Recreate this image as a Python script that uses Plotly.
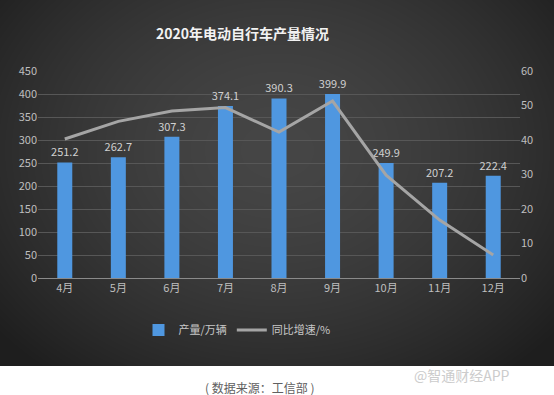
import base64, zlib, struct
import numpy as np
import plotly.graph_objects as go

months = ["4月", "5月", "6月", "7月", "8月", "9月", "10月", "11月", "12月"]
output = [251.2, 262.7, 307.3, 374.1, 390.3, 399.9, 249.9, 207.2, 222.4]
growth = [40.3, 45.4, 48.4, 49.4, 42.3, 51.3, 29.8, 16.8, 6.7]
left_ticks = [0, 50, 100, 150, 200, 250, 300, 350, 400, 450]
right_ticks = [0, 10, 20, 30, 40, 50, 60]

W, H = 554, 395
ML, MR, MT, MB = 38, 34, 71, 117
PW, PH = W - ML - MR, H - MT - MB
DARK_H = 366


def px2x(px):
    return (px - ML) / PW


def px2y(py):
    return (H - MB - py) / PH


def make_png(arr):
    h, w, _ = arr.shape
    raw = b"".join(b"\x00" + arr[i].tobytes() for i in range(h))
    def chunk(t, d):
        c = struct.pack(">I", len(d)) + t + d
        return c + struct.pack(">I", zlib.crc32(t + d) & 0xffffffff)
    png = b"\x89PNG\r\n\x1a\n" + chunk(b"IHDR", struct.pack(">IIBBBBB", w, h, 8, 2, 0, 0, 0))
    png += chunk(b"IDAT", zlib.compress(raw, 9)) + chunk(b"IEND", b"")
    return "data:image/png;base64," + base64.b64encode(png).decode()


yy, xx = np.mgrid[0:DARK_H, 0:W]
r = np.sqrt(((xx - 277) / 330.0) ** 2 + ((yy - 150) / 260.0) ** 2)
v = np.clip(70 - 34 * r ** 1.6, 30, 80).astype(np.uint8)
img = np.stack([v, v, v], axis=-1)
bg = make_png(img)

fig = go.Figure()
fig.add_trace(go.Bar(
    x=months, y=output, name="产量/万辆",
    marker=dict(color="#4f97e0", line=dict(width=0)),
    text=[f"{v:.1f}" for v in output], textposition="outside",
    textfont=dict(color="#d0d0d0", size=11), cliponaxis=False,
    constraintext="none",
    width=0.28,
))
fig.add_trace(go.Scatter(
    x=months, y=growth, name="同比增速/%", yaxis="y2", mode="lines",
    line=dict(color="#a5a5a5", width=3),
))

fig.update_layout(
    width=W, height=H,
    margin=dict(l=ML, r=MR, t=MT, b=MB),
    paper_bgcolor="white", plot_bgcolor="rgba(0,0,0,0)",
    font=dict(family="Noto Sans CJK SC, sans-serif", color="#bfbfbf", size=11),
    showlegend=True,
    legend=dict(orientation="h", x=px2x(237), y=px2y(330), xanchor="center", yanchor="middle",
                font=dict(color="#c8c8c8", size=11), bgcolor="rgba(0,0,0,0)", itemwidth=30,
                tracegroupgap=0),
    xaxis=dict(showgrid=False, showline=True, linecolor="#8a8a8a", linewidth=1,
               tickfont=dict(color="#bfbfbf", size=11), ticks=""),
    yaxis=dict(range=[0, 450], tickvals=left_ticks, showgrid=True, gridcolor="#575757",
               gridwidth=1, zeroline=False, tickfont=dict(color="#bfbfbf", size=11)),
    yaxis2=dict(range=[0, 60], tickvals=right_ticks, overlaying="y", side="right",
                showgrid=False, zeroline=False, tickfont=dict(color="#bfbfbf", size=11)),
    images=[dict(source=bg, xref="paper", yref="paper", x=px2x(0), y=px2y(0),
                 sizex=W / PW, sizey=DARK_H / PH, xanchor="left", yanchor="top",
                 sizing="stretch", layer="below")],
    annotations=[
        dict(text="<b>2020年电动自行车产量情况</b>", xref="paper", yref="paper",
             x=px2x(242), y=px2y(33), showarrow=False, xanchor="center", yanchor="middle",
             font=dict(color="#f2f2f2", size=14)),
        dict(text="( 数据来源：工信部 )", xref="paper", yref="paper",
             x=px2x(260), y=px2y(387), showarrow=False, xanchor="center", yanchor="middle",
             font=dict(color="#606060", size=12)),
        dict(text="@智通财经APP", xref="paper", yref="paper",
             x=px2x(462), y=px2y(375), showarrow=False, xanchor="center", yanchor="middle",
             font=dict(color="#cccccc", size=14)),
    ],
)

fig.write_html("out.html", config={"displayModeBar": False},
               post_script="document.body.style.margin='0';document.body.style.overflow='hidden';")
